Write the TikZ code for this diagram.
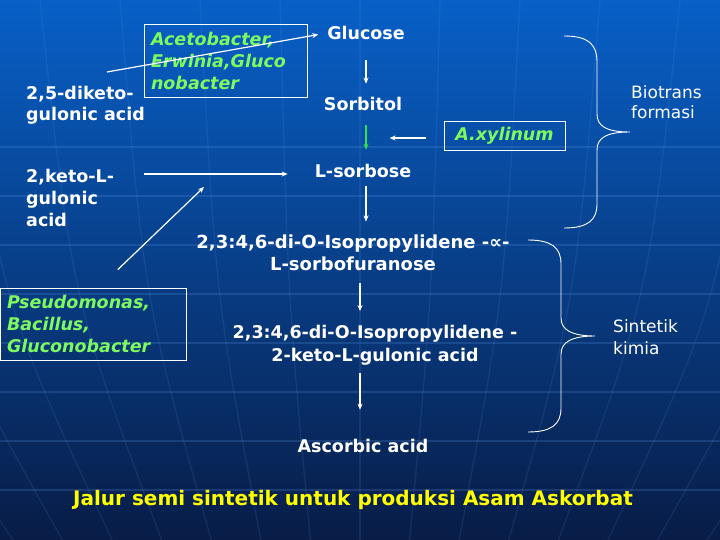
\documentclass[tikz,border=0pt]{standalone}
\usepackage{fontspec}
\setmainfont{DejaVu Sans}
\usetikzlibrary{arrows.meta,calc}
\definecolor{bgtop}{RGB}{8,96,200}
\definecolor{bgmid}{RGB}{10,68,156}
\definecolor{bgbot}{RGB}{8,28,70}
\definecolor{lgreen}{RGB}{125,250,95}
\definecolor{agreen}{RGB}{50,225,80}
\definecolor{ttlyellow}{RGB}{255,255,0}
\definecolor{gridblue}{RGB}{90,150,230}
\tikzset{
  txt/.style={text=white, inner sep=0pt, align=left,
    font=\bfseries\fontsize{17.5}{21}\selectfont},
  reg/.style={text=white, inner sep=0pt, align=left,
    font=\mdseries\fontsize{17}{20}\selectfont},
  gbox/.style={draw=white, line width=0.8pt, text=lgreen, inner xsep=7pt, inner ysep=0pt, align=left,
    font=\bfseries\itshape\fontsize{17.5}{22}\selectfont},
  arr/.style={draw=white, line width=1.2pt, -{Stealth[length=6pt,width=5pt]}},
  garr/.style={draw=agreen, line width=1.3pt, -{Stealth[length=6pt,width=5pt]}},
  bracepath/.style={draw=white, line width=0.9pt},
  gridln/.style={draw=gridblue, line width=1.3pt, opacity=0.22}
}
\begin{document}
\begin{tikzpicture}[x=1pt,y=-1pt]
\useasboundingbox (0,0) rectangle (720,540);
\shade[top color=bgtop, middle color=bgmid, bottom color=bgbot] (0,0) rectangle (720,540);
\begin{scope}
\clip (0,0) rectangle (720,540);
\foreach \yy in {147,196,245,294,343,392,441,490} \draw[gridln] (0,\yy) -- (720,\yy);
\foreach \xt in {-360,-280,...,1080}{
  \pgfmathsetmacro{\xb}{360+(\xt-360)*0.62}
  \pgfmathsetmacro{\xm}{360+(\xt-360)*0.9}
  \draw[gridln, opacity=0.14] (\xt,0) .. controls (\xm,300) .. (\xb,540);
}
\end{scope}

% nodes
\node[txt, anchor=west] (diketo) at (26,105) {2,5-diketo-\\gulonic acid};
\node[txt, anchor=west, font=\bfseries\fontsize{17.5}{22}\selectfont] (ketoL) at (26,197.5) {2,keto-L-\\gulonic\\acid};
\node[gbox, minimum width=163pt, minimum height=73pt, text width=149pt] (bact1) at (225.5,60.5) {Acetobacter,\\Erwinia,Gluco\\nobacter};
\node[gbox, minimum width=186pt, minimum height=72pt, text width=172pt] (pseudo) at (93,324) {Pseudomonas,\\Bacillus,\\Gluconobacter};
\node[gbox, minimum width=121pt, minimum height=29pt, align=center] (axbox) at (504.5,135.5) {A.xylinum};

\node[txt] (glucose) at (366,33) {Glucose};
\node[txt] (sorbitol) at (363,104) {Sorbitol};
\node[txt] (lsorbose) at (363,171) {L-sorbose};
\node[txt, align=center, font=\bfseries\fontsize{18}{22}\selectfont] (iso1) at (353,253) {2,3:4,6-di-O-Isopropylidene -∝-\\L-sorbofuranose};
\node[txt, align=center, font=\bfseries\fontsize{17.5}{23}\selectfont] (iso2) at (375,345) {2,3:4,6-di-O-Isopropylidene -\\2-keto-L-gulonic acid};
\node[txt] (ascorbic) at (363,446) {Ascorbic acid};

\node[reg, anchor=west] (biotrans) at (631,102.5) {Biotrans\\formasi};
\node[reg, anchor=west, font=\mdseries\fontsize{17}{22}\selectfont] (sintetik) at (613,337.5) {Sintetik\\kimia};

\node[inner sep=0pt, text=ttlyellow, font=\bfseries\fontsize{20}{24}\selectfont] (title) at (353,500) {Jalur semi sintetik untuk produksi Asam Askorbat};

% connectors
\coordinate (a1s) at (107,72);
\draw[arr, shorten >=9pt] (a1s) -- (glucose.west);
\draw[arr, shorten <=20.3pt, shorten >=13.3pt] (glucose.south) -- (glucose.south |- sorbitol.north);
\draw[garr, shorten <=14.3pt, shorten >=14.3pt] (glucose.south |- sorbitol.south) -- (glucose.south |- lsorbose.north);
\draw[arr, shorten <=18pt] ($(axbox.west)+(0,2.5)$) -- ++(-54,0);
\draw[arr, shorten <=8.3pt, shorten >=13.3pt] (glucose.south |- lsorbose.south) -- (glucose.south |- iso1.north);
\draw[arr, shorten <=30pt, shorten >=27pt] ($(ketoL.east |- lsorbose.west)+(0,3)$) -- ($(lsorbose.west)+(0,3)$);
\coordinate (dtip) at (204,187);
\draw[arr, shorten <=26pt] ($(pseudo.north)+(6,0)$) -- (dtip);
\draw[arr, shorten <=12.3pt, shorten >=13.7pt] ($(iso1.south)+(7,0)$) -- ($(iso1.south |- iso2.north)+(7,0)$);
\draw[arr, shorten <=7.7pt, shorten >=29.3pt] ($(ascorbic.north |- iso2.south)+(-3,0)$) -- ($(ascorbic.north)+(-3,0)$);

% braces
\draw[bracepath] (564,36) .. controls (588,36) and (597,44) .. (597,62) -- (597,114)
  .. controls (597,126) and (606,132) .. (630,132)
  .. controls (606,132) and (597,138) .. (597,150) -- (597,204)
  .. controls (597,220) and (588,228) .. (564,228);
\draw[bracepath] (528,240) .. controls (552,240) and (561,248) .. (561,264) -- (561,318)
  .. controls (561,330) and (572,336) .. (595,336)
  .. controls (572,336) and (561,342) .. (561,354) -- (561,408)
  .. controls (561,424) and (552,432) .. (528,432);
\end{tikzpicture}
\end{document}
